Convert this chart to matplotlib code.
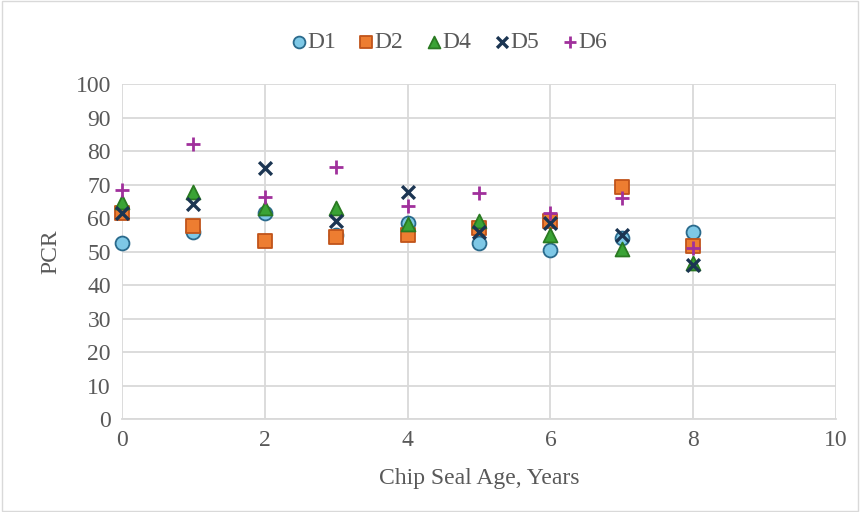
import matplotlib.pyplot as plt
import numpy as np

plt.rcParams['font.family'] = ['Liberation Serif', 'DejaVu Serif']

# PCR by chip seal age, per district
ages = [0, 1, 2, 3, 4, 5, 6, 7, 8]
d1 = [52.5, 55.9, 61.4, 55.0, 58.6, 52.4, 50.6, 53.9, 55.9]
d2 = [61.5, 57.7, 53.1, 54.4, 54.9, 56.9, 59.2, 69.2, 51.6]
d4 = [64.9, 67.9, 62.9, 62.9, 58.3, 59.2, 54.9, 50.7, 46.5]
d5 = [61.5, 64.2, 74.8, 59.2, 67.9, 55.9, 58.6, 54.9, 46.0]
d6 = [68.4, 82.1, 66.4, 75.3, 63.6, 67.4, 61.4, 66.1, 51.0]

fig = plt.figure(figsize=(8.6, 5.12), dpi=100)
ax = fig.add_axes([0.1419, 0.1816, 0.8302, 0.6543])

grid_c = '#d9d9d9'
text_c = '#595959'

kw = dict(zorder=3, clip_on=False)
ax.scatter(ages, d1, s=100, marker='o', facecolor='#7ec8e6', edgecolor='#2a6a8c', linewidth=1.3, label='D1', **kw)
ax.scatter(ages, d2, s=100, marker='s', facecolor='#ed7d31', edgecolor='#c0541a', linewidth=1.3, label='D2', **kw)
ax.scatter(ages, d4, s=100, marker='^', facecolor='#3aa335', edgecolor='#2a7a22', linewidth=1.3, label='D4', **kw)
ax.scatter(ages, d5, s=85, marker='x', color='#1b3552', linewidth=2.4, label='D5', **kw)
ax.scatter(ages, d6, s=95, marker='+', color='#a0309c', linewidth=2.0, label='D6', **kw)

ax.set_xlim(0, 10)
ax.set_ylim(0, 100)
ax.set_xticks(np.arange(0, 11, 2))
ax.set_yticks(np.arange(0, 101, 10))
ax.grid(True, color=grid_c, linewidth=1.3, zorder=0)
ax.set_axisbelow(True)
for s in ['top', 'right', 'left']:
    ax.spines[s].set_visible(False)
ax.spines['bottom'].set_color(grid_c)
ax.spines['bottom'].set_linewidth(1.3)
ax.tick_params(length=0, labelsize=17, labelcolor=text_c, pad=8)

ax.set_xlabel('Chip Seal Age, Years', fontsize=17, color=text_c, labelpad=12)
ax.set_ylabel('PCR', fontsize=17, color=text_c, labelpad=10)

ax.legend(loc='center', bbox_to_anchor=(0.454, 1.125), ncol=5, frameon=False,
          fontsize=17, labelcolor=text_c, handletextpad=-0.2, columnspacing=0.75,
          handlelength=1.1, markerscale=0.85, borderpad=0)

# light frame around the whole figure
fig.patches.append(plt.Rectangle((0.002, 0.002), 0.996, 0.996, transform=fig.transFigure,
                                 fill=False, edgecolor='#d9d9d9', linewidth=1))

fig.savefig('out.png', dpi=100)
